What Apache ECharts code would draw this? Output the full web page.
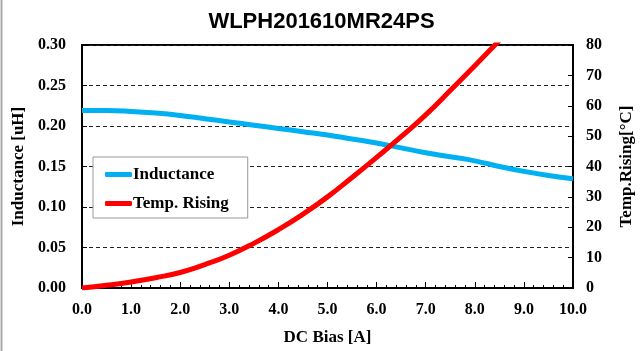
<!DOCTYPE html>
<html>
<head>
<meta charset="utf-8">
<script src="https://cdn.jsdelivr.net/npm/echarts@6/dist/echarts.min.js"></script>
<style>
  html, body { margin: 0; padding: 0; background: #fff; }
  #chart { width: 643px; height: 351px; }
</style>
</head>
<body>
<div id="chart"></div>
<script>
const chartTitle = 'WLPH201610MR24PS';
const currentA = [0, 0.5, 1.0, 1.5, 2.0, 2.5, 3.0, 3.5, 4.0, 4.5, 5.0, 5.5, 6.0, 6.5, 7.0, 7.5, 8.0, 8.5, 9.0, 9.5, 10.0];
const inductanceUH = [0.219, 0.219, 0.218, 0.216, 0.213, 0.209, 0.205, 0.201, 0.197, 0.193, 0.189, 0.184, 0.179, 0.173, 0.167, 0.162, 0.157, 0.150, 0.144, 0.139, 0.135];
const tempRiseC = [0, 0.9, 2.0, 3.4, 5.1, 7.7, 10.8, 14.7, 19.2, 24.3, 30.0, 36.4, 43.0, 49.8, 57.0, 65.0, 73.2, 81.5, null, null, null];
const seriesNames = ['Inductance', 'Temp. Rising'];

const serif = '"Liberation Serif", "DejaVu Serif", serif';
const chart = echarts.init(document.getElementById('chart'), null, { renderer: 'canvas' });

chart.setOption({
  backgroundColor: '#fff',
  animation: false,
  title: {
    text: chartTitle,
    left: 'center',
    top: 6,
    textStyle: { fontFamily: '"Liberation Sans", Arial, sans-serif', fontWeight: 'bold', fontSize: 22, color: '#000' }
  },
  graphic: [{
    type: 'line',
    shape: { x1: 1.5, y1: 0, x2: 1.5, y2: 351 },
    style: { stroke: '#aaa', lineWidth: 2 }
  }],
  legend: {
    orient: 'vertical',
    left: 93,
    top: 157,
    padding: [9, 19, 6, 12],
    itemGap: 12,
    itemWidth: 27,
    itemHeight: 5,
    icon: 'roundRect',
    backgroundColor: '#fff',
    borderColor: '#999',
    borderWidth: 1,
    textStyle: { fontFamily: serif, fontWeight: 'bold', fontSize: 17, color: '#000', padding: [0, 0, 0, -4] },
    data: seriesNames
  },
  grid: {
    left: 82, right: 68, top: 45, bottom: 63,
    show: true, borderColor: '#000', borderWidth: 2, backgroundColor: 'transparent'
  },
  xAxis: {
    type: 'value', min: 0, max: 10, interval: 1,
    name: 'DC Bias [A]', nameLocation: 'middle', nameGap: 41,
    nameTextStyle: { fontFamily: serif, fontWeight: 'bold', fontSize: 17, color: '#000' },
    axisLine: { show: true, lineStyle: { color: '#000', width: 2 } },
    axisTick: { show: true, inside: true, length: 6, lineStyle: { color: '#000' } },
    minorTick: { show: true, splitNumber: 5, length: 3, lineStyle: { color: '#000' } },
    axisLabel: { margin: 14, fontFamily: serif, fontWeight: 'bold', fontSize: 16, color: '#000', formatter: v => v.toFixed(1) },
    splitLine: { show: false }
  },
  yAxis: [{
    type: 'value', min: 0, max: 0.3, interval: 0.05, position: 'left',
    name: 'Inductance [uH]', nameLocation: 'middle', nameGap: 51,
    nameTextStyle: { fontFamily: serif, fontWeight: 'bold', fontSize: 17, color: '#000' },
    axisLine: { show: true, lineStyle: { color: '#000', width: 2 } },
    axisTick: { show: true, inside: true, length: 5, lineStyle: { color: '#000' } },
    axisLabel: { margin: 16, fontFamily: serif, fontWeight: 'bold', fontSize: 16, color: '#000', formatter: v => v.toFixed(2) },
    splitLine: { show: true, lineStyle: { color: '#222', type: [4, 3], width: 1 } }
  }, {
    type: 'value', min: 0, max: 80, interval: 10, position: 'right',
    name: 'Temp.Rising[°C]', nameLocation: 'middle', nameGap: 45,
    nameTextStyle: { fontFamily: serif, fontWeight: 'bold', fontSize: 17, color: '#000' },
    axisLine: { show: true, lineStyle: { color: '#000', width: 2 } },
    axisTick: { show: true, inside: true, length: 5, lineStyle: { color: '#000' } },
    axisLabel: { margin: 13, fontFamily: serif, fontWeight: 'bold', fontSize: 16, color: '#000' },
    splitLine: { show: false }
  }],
  series: [{
    name: seriesNames[0],
    type: 'line',
    yAxisIndex: 0,
    smooth: true,
    symbol: 'none',
    clip: true,
    color: '#00B0F0',
    lineStyle: { width: 5, color: '#00B0F0' },
    data: currentA.map((x, i) => [x, inductanceUH[i]])
  }, {
    name: seriesNames[1],
    type: 'line',
    yAxisIndex: 1,
    smooth: true,
    symbol: 'none',
    clip: true,
    color: '#FF0000',
    lineStyle: { width: 5, color: '#FF0000' },
    data: currentA.map((x, i) => [x, tempRiseC[i]]).filter(p => p[1] !== null)
  }]
});
</script>
</body>
</html>
